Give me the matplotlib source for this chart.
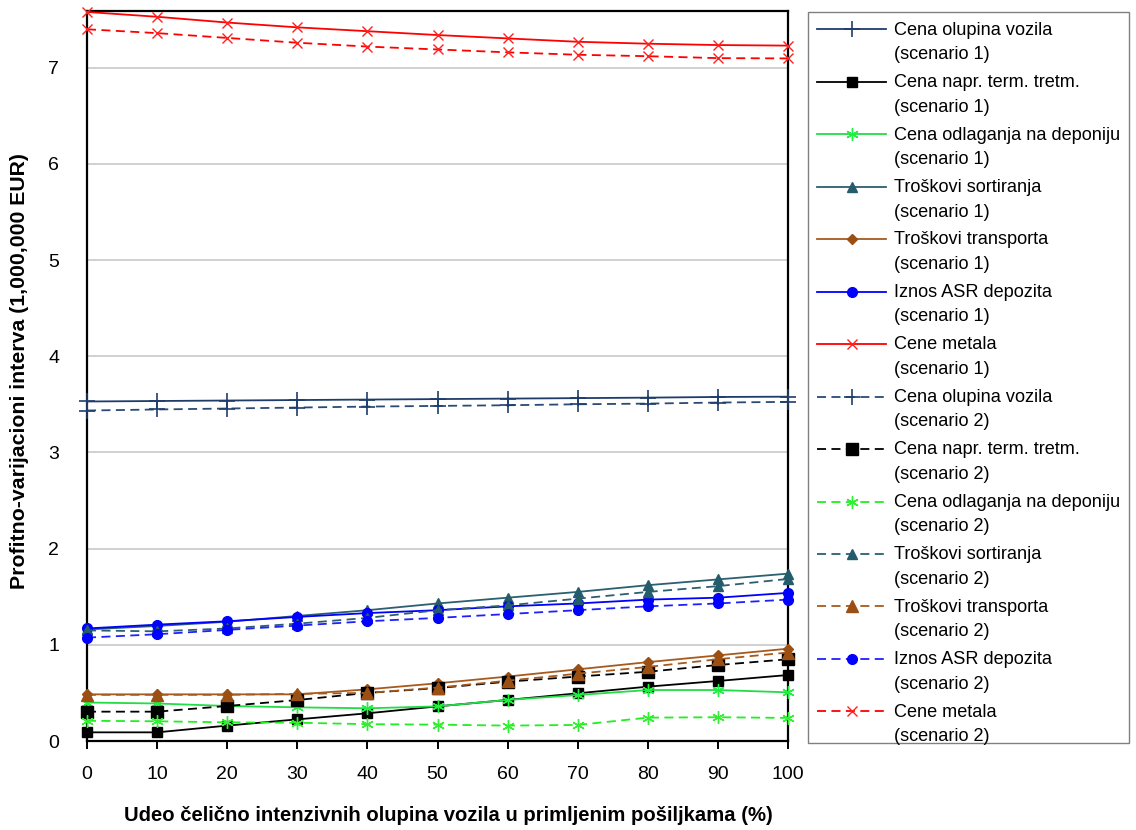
import matplotlib
matplotlib.use("Agg")
import matplotlib.pyplot as plt
from matplotlib.legend_handler import HandlerLine2D
from matplotlib.patches import Rectangle

x = [0, 10, 20, 30, 40, 50, 60, 70, 80, 90, 100]

hull_s1 = [3.53, 3.535, 3.54, 3.545, 3.55, 3.555, 3.56, 3.565, 3.57, 3.577, 3.58]
term_s1 = [0.09, 0.09, 0.16, 0.225, 0.288, 0.36, 0.427, 0.496, 0.565, 0.624, 0.686]
landfill_s1 = [0.40, 0.39, 0.364, 0.35, 0.34, 0.36, 0.427, 0.478, 0.53, 0.53, 0.506]
sort_s1 = [1.16, 1.196, 1.24, 1.30, 1.36, 1.43, 1.49, 1.55, 1.62, 1.68, 1.74]
transport_s1 = [0.485, 0.485, 0.485, 0.485, 0.537, 0.60, 0.67, 0.745, 0.82, 0.89, 0.96]
asr_s1 = [1.17, 1.21, 1.245, 1.29, 1.33, 1.36, 1.40, 1.43, 1.47, 1.49, 1.54]
metal_s1 = [7.58, 7.53, 7.47, 7.42, 7.38, 7.34, 7.305, 7.27, 7.25, 7.236, 7.23]

hull_s2 = [3.436, 3.447, 3.457, 3.467, 3.477, 3.484, 3.491, 3.501, 3.508, 3.519, 3.526]
term_s2 = [0.305, 0.305, 0.364, 0.426, 0.50, 0.55, 0.617, 0.67, 0.72, 0.79, 0.85]
landfill_s2 = [0.21, 0.205, 0.194, 0.19, 0.175, 0.17, 0.16, 0.167, 0.243, 0.247, 0.24]
sort_s2 = [1.15, 1.14, 1.17, 1.22, 1.28, 1.36, 1.41, 1.48, 1.55, 1.61, 1.685]
transport_s2 = [0.48, 0.48, 0.48, 0.49, 0.50, 0.555, 0.627, 0.70, 0.77, 0.85, 0.92]
asr_s2 = [1.075, 1.11, 1.155, 1.20, 1.245, 1.28, 1.32, 1.36, 1.40, 1.43, 1.47]
metal_s2 = [7.40, 7.36, 7.31, 7.26, 7.22, 7.19, 7.16, 7.135, 7.12, 7.10, 7.097]

names = ["Cena olupina vozila", "Cena napr. term. tretm.", "Cena odlaganja na deponiju",
         "Troškovi sortiranja", "Troškovi transporta", "Iznos ASR depozita", "Cene metala"]
x_ticks = [0, 10, 20, 30, 40, 50, 60, 70, 80, 90, 100]
y_ticks = [0, 1, 2, 3, 4, 5, 6, 7]
x_label = "Udeo čelično intenzivnih olupina vozila u primljenim pošiljkama (%)"
y_label = "Profitno-varijacioni interva (1,000,000 EUR)"

plt.rcParams['font.family'] = ['Liberation Sans', 'DejaVu Sans']

W, H = 1136, 830
fig = plt.figure(figsize=(W/100, H/100), dpi=100)
ax = fig.add_axes([87/W, 1-741/H, (788-87)/W, (741-11)/H])

asterisk = (6, 2, 0)
styles = [
    dict(color='#1F3D6B', marker='+', ms=11, mew=1.2, mfc='#1F3D6B', mec='#1F3D6B'),
    dict(color='black', marker='s', ms=6.5, mfc='black', mec='black'),
    dict(color='#22DD44', marker=asterisk, ms=9, mew=1.0, mec='#22EE44'),
    dict(color='#2B6070', marker='^', ms=7, mfc='#245C6C', mec='#245C6C'),
    dict(color='#A65A1E', marker='D', ms=5.5, mfc='#9C4F12', mec='#9C4F12'),
    dict(color='#0000FF', marker='o', ms=7, mfc='#0000FF', mec='#0000FF'),
    dict(color='#FF0000', marker='x', ms=7.5, mew=1.0, mec='#FF2020'),
]
styles2 = [
    dict(color='#2A4A78', marker='+', ms=11, mew=1.2, mec='#1F3D6B'),
    dict(color='black', marker='s', ms=9, mfc='black', mec='black'),
    dict(color='#22EE22', marker=asterisk, ms=9, mew=1.0, mec='#33EE33'),
    dict(color='#2B6070', marker='^', ms=7, mfc='#245C6C', mec='#245C6C'),
    dict(color='#A65A1E', marker='^', ms=8, mfc='#9C4F12', mec='#9C4F12'),
    dict(color='#2020FF', marker='o', ms=7, mfc='#0000FF', mec='#0000FF'),
    dict(color='#FF0000', marker='x', ms=7.5, mew=1.0, mec='#FF2020'),
]

s1 = [hull_s1, term_s1, landfill_s1, sort_s1, transport_s1, asr_s1, metal_s1]
s2 = [hull_s2, term_s2, landfill_s2, sort_s2, transport_s2, asr_s2, metal_s2]

handles = []
for name, ys, st in zip(names, s1, styles):
    h, = ax.plot(x, ys, lw=1.3, ls='-', clip_on=False, zorder=3,
                 label=f"{name}\n(scenario 1)", **st)
    handles.append(h)
for name, ys, st in zip(names, s2, styles2):
    h, = ax.plot(x, ys, lw=1.3, ls=(0, (5, 3)), clip_on=False, zorder=3,
                 label=f"{name}\n(scenario 2)", **st)
    handles.append(h)

ax.set_xlim(0, 100)
ax.set_ylim(0, 7.59)
ax.set_xticks(x_ticks)
ax.set_yticks(y_ticks)
ax.yaxis.grid(True, color='#C8C8C8', lw=1.2)
ax.set_axisbelow(True)
for sp in ax.spines.values():
    sp.set_color('black')
    sp.set_linewidth(1.6)
ax.tick_params(axis='x', direction='out', length=6, width=1.4, pad=12, labelsize=14)
ax.tick_params(axis='y', length=0, pad=20, labelsize=14)

fig.text(20/W, 1-371/H, y_label, rotation=90, ha='center', va='center',
         fontsize=15.3, fontweight='bold')
fig.text(448/W, 1-815/H, x_label, ha='center', va='center',
         fontsize=14.6, fontweight='bold')


class TopLineHandler(HandlerLine2D):
    """Align the legend handle with the first text line of the label."""
    shift = 9.4

    def create_artists(self, legend, orig_handle, xdescent, ydescent,
                       width, height, fontsize, trans):
        artists = super().create_artists(legend, orig_handle, xdescent, ydescent,
                                         width, height, fontsize, trans)
        for a in artists:
            a.set_ydata([yy + self.shift for yy in a.get_ydata()])
        return artists


leg = fig.legend(handles=handles, loc='upper left',
                 bbox_to_anchor=(808/W, 1-12.5/H), borderaxespad=0,
                 fontsize=13.1, handlelength=3.8, handletextpad=0.4,
                 labelspacing=0.6, borderpad=0.5, frameon=False,
                 handler_map={h: TopLineHandler() for h in handles})
for t in leg.get_texts():
    t.set_linespacing(1.58)

# legend frame (layout box)
fig.patches.append(Rectangle((808/W, 1-743/H), (1129-808)/W, (743-12.5)/H,
                             transform=fig.transFigure, fill=False,
                             edgecolor='#808080', linewidth=1.0, zorder=5))

fig.savefig("out.png", dpi=100)
